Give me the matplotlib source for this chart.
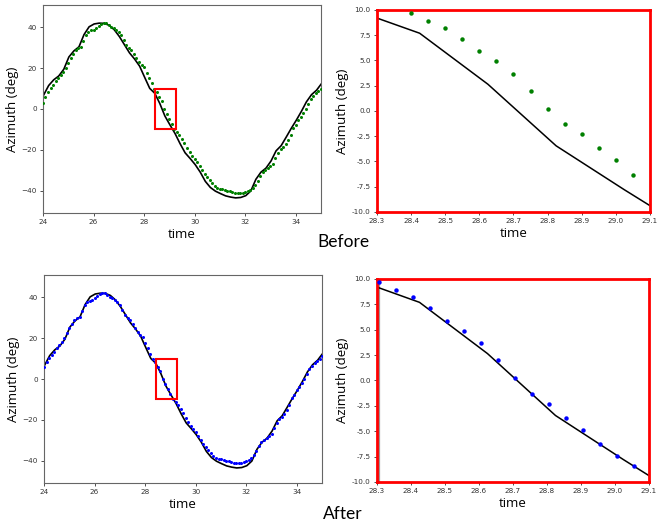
import numpy as np
import matplotlib.pyplot as plt
from matplotlib.patches import Rectangle

# reference (truth) azimuth, sampled every 0.2 s
ref_t = np.arange(23.825, 35.03, 0.2)
ref_az = [
    2.5, 6.8, 11.5, 14.3, 16.2, 19.5, 25.5, 28.5, 30.5, 36.5,
    40.3, 41.7, 42.1, 42.0, 41.0, 38.8, 35.5, 31.5, 27.5, 24.5,
    21.0, 15.5, 10.1, 7.7, 2.65, -3.45, -7.8, -12.0, -17.0, -21.5,
    -24.3, -27.3, -31.0, -35.5, -38.5, -40.3, -41.5, -42.6, -43.2, -43.6,
    -43.4, -42.5, -40.2, -34.5, -31.0, -29.0, -25.5, -20.5, -18.0, -13.8,
    -9.5, -5.5, -1.2, 3.5, 7.0, 9.2, 12.5,
]

# measured azimuth, sampled every 0.1 s (raw timestamps)
meas_t = np.arange(24.0, 35.15, 0.1)
meas_az = [
    3.0, 6.0, 8.5, 10.5, 12.0, 13.5, 15.0, 16.5, 18.3, 20.3,
    22.5, 25.0, 27.2, 28.8, 29.8, 30.5, 33.5, 36.3, 37.8, 38.5,
    38.9, 39.8, 40.5, 41.5, 42.2, 42.0, 41.3, 40.3, 39.5, 38.6,
    37.8, 36.5, 33.8, 31.5, 30.0, 28.8, 27.0, 24.8, 23.0, 21.8,
    20.5, 17.5, 15.2, 12.5, 9.7, 8.2, 5.9, 3.7, 0.2, -2.3,
    -4.9, -7.4, -9.8, -11.5, -12.8, -14.5, -16.5, -19.0, -21.3, -23.0,
    -24.5, -25.8, -27.8, -30.0, -31.8, -33.3, -35.0, -36.5, -37.8, -38.8,
    -39.4, -39.3, -39.5, -40.0, -40.4, -40.8, -41.1, -41.2, -41.1, -41.0,
    -40.8, -40.4, -39.8, -38.9, -37.5, -35.5, -33.0, -31.0, -29.8, -29.0,
    -28.0, -26.8, -24.0, -21.5, -19.8, -18.5, -17.0, -15.0, -12.8, -9.5,
    -7.8, -5.6, -3.8, -1.8, 0.2, 2.5, 4.8, 6.6, 7.9, 9.0,
    10.0, 11.2,
]

# measured samples inside the zoom window (0.05 s)
zoom_t = np.arange(28.40, 29.16, 0.05)
zoom_az = [9.7, 8.9, 8.2, 7.1, 5.9, 4.9, 3.7, 2.0, 0.2, -1.3,
           -2.3, -3.7, -4.9, -6.3, -7.4, -8.4]

# timestamp correction applied in the "after" case
time_fix = 0.095

box_t = (28.45, 29.25)
box_az = (-10, 10)

label_font = "Open Sans"


def style_axes(ax):
    ax.tick_params(labelsize=5.2, length=2.5, width=0.6, pad=2, colors="#333333")
    for sp in ax.spines.values():
        sp.set_edgecolor("#666666")
        sp.set_linewidth(0.8)
    ax.set_xlabel("time", fontsize=9.5, family=label_font, labelpad=2)
    ax.set_ylabel("Azimuth (deg)", fontsize=9.5, family=label_font, labelpad=2)


def full_panel(ax, t, az, color):
    ax.plot(ref_t, ref_az, color="black", lw=1.2, zorder=2)
    ax.plot(t, az, ls="none", marker="o", ms=2.2, mec="none", color=color, zorder=3)
    ax.add_patch(Rectangle((box_t[0], box_az[0]), box_t[1] - box_t[0], box_az[1] - box_az[0],
                           fill=False, edgecolor="red", lw=1.5, zorder=4))
    ax.set_xlim(24, 35)
    ax.set_ylim(-51, 51)
    ax.set_xticks([24, 26, 28, 30, 32, 34])
    ax.set_yticks([-40, -20, 0, 20, 40])
    style_axes(ax)


def zoom_panel(ax, t, az, color):
    keep = t < 29.08
    ax.plot(ref_t, ref_az, color="black", lw=1.1, zorder=2)
    ax.plot(t[keep], np.array(az)[keep], ls="none", marker="o", ms=3.2, mec="none",
            color=color, zorder=3)
    ax.set_xlim(28.3, 29.1)
    ax.set_ylim(-10, 10)
    xt = np.arange(28.3, 29.15, 0.1)
    yt = np.arange(-10, 10.1, 2.5)
    ax.set_xticks(xt)
    ax.set_xticklabels([f"{v:.1f}" for v in xt])
    ax.set_yticks(yt)
    ax.set_yticklabels([f"{v:.1f}" for v in yt])
    style_axes(ax)
    for sp in ax.spines.values():
        sp.set_edgecolor("red")
        sp.set_linewidth(2)


fig = plt.figure(figsize=(6.57, 5.26), dpi=100)
ax_tl = fig.add_axes([0.0654, 0.5951, 0.4231, 0.3954])
ax_tr = fig.add_axes([0.5738, 0.5970, 0.4155, 0.3840])
ax_bl = fig.add_axes([0.0670, 0.0817, 0.4231, 0.3954])
ax_br = fig.add_axes([0.5738, 0.0837, 0.4140, 0.3859])

full_panel(ax_tl, meas_t, meas_az, "green")
zoom_panel(ax_tr, zoom_t, zoom_az, "green")
full_panel(ax_bl, meas_t - time_fix, meas_az, "blue")
zoom_panel(ax_br, zoom_t - time_fix, zoom_az, "blue")
ax_br.axvline(28.305, color="#999999", lw=1.6, zorder=1)

fig.text(0.522, 0.540, "Before", ha="center", va="center", fontsize=12.5, family="Lato")
fig.text(0.521, 0.023, "After", ha="center", va="center", fontsize=12.5, family="Lato")

fig.savefig("out.png", dpi=100)
